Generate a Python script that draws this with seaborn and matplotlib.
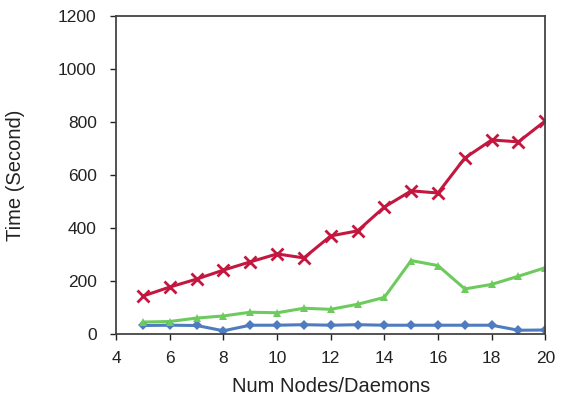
import matplotlib
matplotlib.use("Agg")
import matplotlib.pyplot as plt
import seaborn as sns
import pandas as pd

nodes = list(range(5, 21))
series_a = [32, 33, 32, 12, 33, 33, 35, 33, 35, 33, 33, 33, 33, 33, 14, 15]
series_b = [45, 47, 60, 68, 82, 80, 97, 93, 112, 138, 277, 258, 170, 187, 218, 250]
series_c = [143, 177, 207, 241, 272, 302, 287, 370, 389, 479, 540, 532, 664, 732, 725, 804]

x_ticks = [4, 6, 8, 10, 12, 14, 16, 18, 20]
y_ticks = [0, 200, 400, 600, 800, 1000, 1200]

sns.set_theme(style="ticks")
plt.rcParams["font.family"] = ["Liberation Sans", "DejaVu Sans"]

df = pd.DataFrame({
    "nodes": nodes * 3,
    "time": series_a + series_b + series_c,
    "series": ["a"] * 16 + ["b"] * 16 + ["c"] * 16,
})

fig = plt.figure(figsize=(5.61, 3.99), dpi=100)
ax = fig.add_axes([0.207, 0.163, 0.765, 0.797])

palette = {"a": "#4E7CBF", "b": "#6DCB5E", "c": "#C3173F"}
sns.lineplot(data=df, x="nodes", y="time", hue="series", style="series",
             palette=palette, dashes=False, markers=False, lw=2.2,
             legend=False, ax=ax)
for key, vals, mk, ms, mew in [("a", series_a, "D", 5, 0),
                               ("b", series_b, "^", 6, 0),
                               ("c", series_c, "x", 9, 2)]:
    ax.plot(nodes, vals, linestyle="none", marker=mk, markersize=ms,
            color=palette[key], markeredgewidth=mew, markeredgecolor=palette[key])

ax.set_xlim(4, 20)
ax.set_ylim(0, 1200)
ax.set_xticks(x_ticks)
ax.set_yticks(y_ticks)
ax.tick_params(labelsize=12.5, colors="#222222", length=4, width=1)
ax.tick_params(axis="y", pad=10)
ax.tick_params(axis="x", pad=8)
ax.set_xlabel("Num Nodes/Daemons", fontsize=14.5, color="#222222", labelpad=8)
ax.set_ylabel("Time (Second)", fontsize=14.5, color="#222222", labelpad=24)
for s in ax.spines.values():
    s.set_visible(True)
    s.set_color("#444444")
    s.set_linewidth(1.3)

fig.savefig("out.png", dpi=100)
